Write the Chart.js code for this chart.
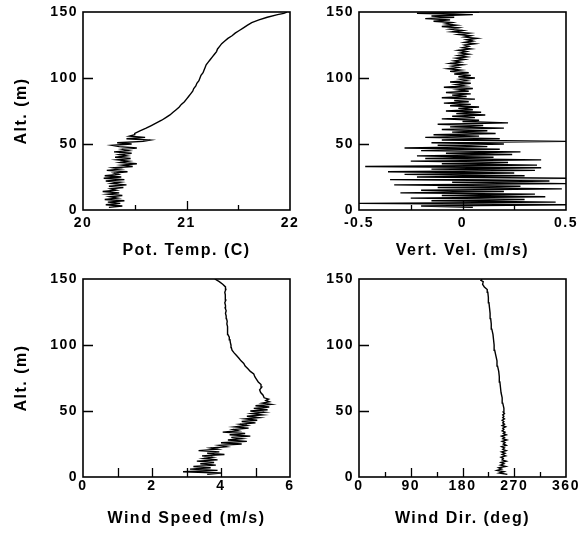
<!DOCTYPE html>
<html><head><meta charset="utf-8">
<script src="https://cdn.jsdelivr.net/npm/chart.js@4/dist/chart.umd.min.js"></script>
<style>
html,body{margin:0;padding:0;background:#fff;}
#wrap{position:relative;width:580px;height:533px;overflow:hidden;}
canvas{position:absolute;}
</style></head><body>
<div id="wrap">
<canvas id="c1" width="320" height="266" style="left:0;top:0"></canvas>
<canvas id="c2" width="285" height="266" style="left:295px;top:0"></canvas>
<canvas id="c3" width="320" height="267" style="left:0;top:266px"></canvas>
<canvas id="c4" width="285" height="267" style="left:295px;top:266px"></canvas>
</div>
<script>
// ---------- DATA ----------
const altTicks = [0, 50, 100, 150];
const altTickLabels = ['0', '50', '100', '150'];

// Potential temperature profile
const potAlt = [2,3,4,5,6,7,8,9,10,11,12,13,14,15,16,17,18,19,20,21,22,23,24,25,26,27,28,29,30,31,32,33,34,35,36,37,38,39,40,41,42,43,44,45,46,47,48,49,50,51,52,53,54,55,56,57,
  58,60,62,64,66,68,70,72,74,76,78,80,82,84,86,88,90,92,94,96,98,100,102,104,106,108,110,112,114,116,118,120,122,124,126,128,130,132,134,136,138,140,142,144,146,148,149,150];
const potTemp = [20.25,20.38,20.22,20.36,20.24,20.40,20.21,20.33,20.26,20.38,20.24,20.35,20.19,20.32,20.27,20.39,20.25,20.42,20.28,20.36,20.22,20.40,20.20,20.37,20.21,20.34,20.30,20.43,20.23,20.36,20.29,20.48,20.38,20.52,20.36,20.44,20.33,20.46,20.31,20.42,20.35,20.47,20.30,20.44,20.38,20.52,20.35,20.28,20.47,20.33,20.58,20.65,20.42,20.60,20.45,20.50,
  20.50,20.55,20.61,20.66,20.71,20.76,20.80,20.84,20.87,20.90,20.93,20.95,20.98,21.00,21.02,21.04,21.06,21.07,21.09,21.10,21.12,21.13,21.14,21.16,21.17,21.18,21.19,21.21,21.23,21.25,21.27,21.29,21.30,21.32,21.34,21.37,21.40,21.44,21.47,21.51,21.55,21.59,21.63,21.70,21.78,21.88,21.94,21.97];
const potTickValues = [20, 21, 22];
const potTickLabels = ['20', '21', '22'];

// Vertical velocity profile
const velAlt = [2,3,4,5,6,7,8,9,10,11,12,13,14,15,16,17,18,19,20,21,22,23,24,25,26,27,28,29,30,31,32,33,34,35,36,37,38,39,40,41,42,43,44,45,46,47,48,49,50,
  51,52,53,54,55,56,57,58,59,60,61,62,63,64,65,66,67,68,69,70,71,72,73,74,75,76,77,78,79,80,81,82,83,84,85,86,87,88,89,90,91,92,93,94,95,96,97,98,99,100,
  101,102,103,104,105,106,107,108,109,110,111,112,113,114,115,116,117,118,119,120,121,122,123,124,125,126,127,128,129,130,131,132,133,134,135,136,137,138,139,140,141,142,143,144,145,146,147,148,149,150];
const vertVel = [0.05,-0.20,0.50,-0.50,0.45,-0.15,0.30,-0.25,0.40,-0.10,0.35,-0.30,0.20,-0.20,0.48,-0.12,0.28,-0.33,0.50,-0.05,0.42,-0.35,0.50,-0.22,0.30,-0.28,0.25,-0.36,0.35,-0.15,0.38,-0.47,0.36,-0.10,0.22,-0.25,0.38,-0.18,0.15,-0.22,0.24,-0.08,0.28,-0.20,0.18,-0.28,0.12,-0.12,0.20,
  -0.15,0.50,-0.10,0.18,-0.18,0.08,-0.14,0.16,-0.05,0.12,-0.10,0.20,-0.06,0.10,-0.12,0.22,0.00,0.08,-0.10,0.06,-0.05,0.11,-0.03,0.09,-0.08,0.05,-0.02,0.08,-0.06,0.04,-0.09,0.03,-0.04,0.06,-0.10,0.02,-0.05,0.04,-0.08,0.03,-0.02,0.05,-0.09,0.01,-0.03,0.04,-0.06,0.02,-0.01,0.06,
  -0.02,0.04,-0.04,0.03,-0.06,-0.01,-0.07,-0.02,-0.05,0.00,-0.06,-0.01,-0.04,0.01,-0.03,0.02,-0.02,0.03,-0.01,0.02,-0.02,0.04,0.00,0.03,0.01,0.06,0.01,0.05,0.02,0.07,0.01,0.04,-0.02,0.03,-0.05,0.00,-0.06,-0.02,-0.10,-0.03,-0.08,-0.05,-0.14,-0.06,-0.18,-0.04,-0.15,0.05,-0.22,0.08];
const velTickValues = [-0.5, 0, 0.5];
const velTickLabels = ['-0.5', '0', '0.5'];

// Wind speed profile
const spdAlt = [2,3,4,5,6,7,8,9,10,11,12,13,14,15,16,17,18,19,20,21,22,23,24,25,26,27,28,29,30,31,32,33,34,35,36,37,38,39,40,41,42,43,44,45,46,47,48,49,50,51,52,53,54,55,56,57,58,59,60,
  62,64,66,68,70,72,74,76,78,80,82,84,86,88,90,92,94,96,98,100,102,104,106,108,110,112,114,116,118,120,122,124,126,128,130,132,134,136,138,140,142,144,146,148,150];
const windSpeed = [3.6,4.0,2.9,3.9,3.1,3.7,3.2,3.85,3.4,3.8,3.3,3.9,3.5,3.75,3.45,4.1,3.6,3.95,3.35,3.9,3.7,4.15,3.95,4.6,4.0,4.75,4.2,4.6,4.3,4.85,4.25,4.7,4.05,4.5,4.35,4.8,4.4,4.75,4.55,5.0,4.6,5.05,4.7,5.1,4.75,5.2,4.9,5.25,4.85,5.35,4.95,5.4,5.0,5.45,5.2,5.4,5.3,5.38,5.25,
  5.22,5.15,5.12,5.18,5.16,5.08,5.03,4.98,4.95,4.85,4.78,4.70,4.66,4.58,4.52,4.45,4.38,4.32,4.30,4.29,4.27,4.26,4.24,4.20,4.19,4.18,4.20,4.17,4.18,4.16,4.15,4.13,4.15,4.12,4.13,4.11,4.14,4.12,4.13,4.11,4.14,4.13,4.05,3.95,3.82];
const spdTickValues = [0, 2, 4, 6];
const spdTickLabels = ['0', '2', '4', '6'];

// Wind direction profile
const dirAlt = [2,3,4,5,6,7,8,9,10,11,12,13,14,15,16,17,18,19,20,21,22,23,24,25,26,27,28,29,30,31,32,33,34,35,36,37,38,39,40,41,42,43,44,45,46,47,48,49,50,
  52,56,60,64,68,72,76,80,84,88,92,96,100,104,108,112,116,120,124,128,132,136,140,142,144,146,148,149,150];
const windDir = [258,244,252,240,248,243,255,246,252,247,256,249,251,247,255,249,254,248,256,250,253,248,256,251,254,249,257,250,253,248,256,251,254,249,252,250,255,249,253,250,252,249,253,250,252,250,253,251,252,
  252,250,249,247,246,245,244,243,241,240,238,236,235,234,233,231,230,229,228,227,226,225,224,223,218,215,216,212,214];
const dirTickValues = [0, 90, 180, 270, 360];
const dirTickLabels = ['0', '90', '180', '270', '360'];

// ---------- STYLE ----------
const FAMILY = "'Liberation Sans', Arial, sans-serif";
const LS = '1.5px';
const tickFont = {family: FAMILY, size: 14, weight: 'bold'};
const titleFont = {family: FAMILY, size: 16, weight: 'bold'};

const framePlugin = {
  id: 'frame',
  beforeLayout(chart) { chart.ctx.letterSpacing = LS; },
  beforeDraw(chart) { chart.ctx.letterSpacing = LS; },
  afterDatasetsDraw(chart, args, opts) {
    const {ctx, chartArea: a, scales: {x, y}} = chart;
    ctx.save();
    ctx.strokeStyle = '#000';
    ctx.lineWidth = 1.3;
    ctx.beginPath();
    (opts.xMajor || []).forEach(v => { const p = Math.round(x.getPixelForValue(v)) + 0.5; ctx.moveTo(p, a.bottom); ctx.lineTo(p, a.bottom - 9); });
    (opts.xMinor || []).forEach(v => { const p = Math.round(x.getPixelForValue(v)) + 0.5; ctx.moveTo(p, a.bottom); ctx.lineTo(p, a.bottom - 5); });
    (opts.yMajor || []).forEach(v => { const p = Math.round(y.getPixelForValue(v)) + 0.5; ctx.moveTo(a.left, p); ctx.lineTo(a.left + 10, p); });
    ctx.stroke();
    ctx.lineWidth = 1.6;
    ctx.strokeRect(a.left, a.top, a.right - a.left, a.bottom - a.top);
    ctx.restore();
  }
};

function panel(id, alts, vals, o) {
  const pts = alts.map((a, i) => ({x: vals[i], y: a}));
  return new Chart(document.getElementById(id), {
    type: 'scatter',
    data: {datasets: [{data: pts, showLine: true, borderColor: '#000', borderWidth: 1.4, pointRadius: 0, fill: false, tension: 0}]},
    plugins: [framePlugin],
    options: {
      responsive: false, animation: false, events: [],
      layout: {padding: {left: 0, top: o.padTop, right: o.padRight, bottom: 0}},
      plugins: {legend: {display: false}, tooltip: {enabled: false},
        frame: {xMajor: o.xMajor, xMinor: o.xMinor, yMajor: [50, 100]}},
      scales: {
        x: {type: 'linear', min: o.xTickValues[0], max: o.xTickValues[o.xTickValues.length - 1],
          grid: {display: false, drawTicks: false}, border: {display: false},
          afterBuildTicks: s => { s.ticks = o.xTickValues.map(v => ({value: v})); },
          ticks: {color: '#000', font: tickFont, padding: o.xTickPad, maxRotation: 0, autoSkip: false,
            callback: (v, i) => o.xTickLabels[i]},
          title: {display: true, text: o.xTitle, color: '#000', font: titleFont, padding: {top: 0, bottom: o.xTitlePad}},
          afterFit: s => { s.height = o.xAxisH; s.paddingLeft = 0; s.paddingRight = 0; }},
        y: {type: 'linear', min: 0, max: 150,
          grid: {display: false, drawTicks: false}, border: {display: false},
          afterBuildTicks: s => { s.ticks = altTicks.map(v => ({value: v})); },
          ticks: {color: '#000', font: tickFont, padding: 5, autoSkip: false,
            callback: (v, i) => altTickLabels[i]},
          title: {display: !!o.yTitle, text: o.yTitle || '', color: '#000', font: titleFont, padding: {top: 12.4, bottom: 0}},
          afterFit: s => { s.width = o.yAxisW; s.paddingTop = 0; s.paddingBottom = 0; }}
      }
    }
  });
}

panel('c1', potAlt, potTemp, {padTop: 12, padRight: 30, xAxisH: 56, yAxisW: 83, xTickPad: 5, xTitlePad: 5.9,
  xTickValues: potTickValues, xTickLabels: potTickLabels, xMajor: [21], xMinor: [20.5, 21.5],
  xTitle: 'Pot. Temp. (C)', yTitle: 'Alt. (m)'});
panel('c2', velAlt, vertVel, {padTop: 12, padRight: 14, xAxisH: 56, yAxisW: 64, xTickPad: 5, xTitlePad: 5.9,
  xTickValues: velTickValues, xTickLabels: velTickLabels, xMajor: [0], xMinor: [-0.25, 0.25],
  xTitle: 'Vert. Vel. (m/s)'});
panel('c3', spdAlt, windSpeed, {padTop: 13, padRight: 30, xAxisH: 56, yAxisW: 83, xTickPad: 1, xTitlePad: 4.4,
  xTickValues: spdTickValues, xTickLabels: spdTickLabels, xMajor: [1, 2, 3, 4, 5], xMinor: [],
  xTitle: 'Wind Speed (m/s)', yTitle: 'Alt. (m)'});
panel('c4', dirAlt, windDir, {padTop: 13, padRight: 14, xAxisH: 56, yAxisW: 64, xTickPad: 1, xTitlePad: 4.4,
  xTickValues: dirTickValues, xTickLabels: dirTickLabels, xMajor: [90, 180, 270], xMinor: [45, 135, 225, 315],
  xTitle: 'Wind Dir. (deg)'});
</script>
</body></html>
